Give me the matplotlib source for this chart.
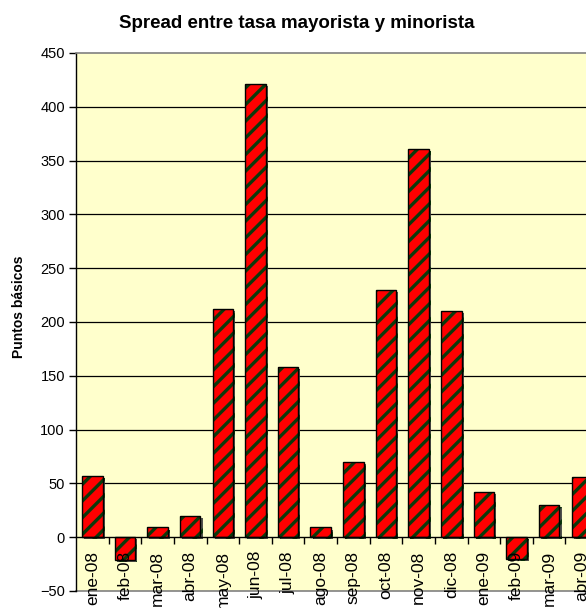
import matplotlib
matplotlib.use("Agg")
import matplotlib.pyplot as plt
import matplotlib.patheffects as pe
import numpy as np

# datos
meses = ["ene-08", "feb-08", "mar-08", "abr-08", "may-08", "jun-08", "jul-08", "ago-08",
         "sep-08", "oct-08", "nov-08", "dic-08", "ene-09", "feb-09", "mar-09", "abr-09"]
spread = [57, -21, 9, 20, 212, 421, 158, 9, 70, 230, 361, 210, 42, -20, 30, 56]
yticks = [-50, 0, 50, 100, 150, 200, 250, 300, 350, 400, 450]

plt.rcParams['font.family'] = ['Liberation Sans', 'DejaVu Sans']
plt.rcParams['hatch.linewidth'] = 2.4

fig = plt.figure(figsize=(5.86, 6.08), dpi=100)
ax = fig.add_axes([0.1297, 0.028, 0.891, 0.885])
ax.set_facecolor('#FFFFCC')

x = np.arange(len(meses))

# líneas de cuadrícula detrás de las barras
for v in yticks[2:-1]:
    ax.axhline(v, color='black', lw=0.9, zorder=0.5)
ax.axhline(-50, color='#808080', lw=1.2, zorder=0.5, clip_on=False)

ax.bar(x, spread, 0.63, color='#FF0000', edgecolor='#0B3A0B', hatch='//', lw=0,
       zorder=1,
       path_effects=[pe.SimplePatchShadow(offset=(1.5, -1.5), shadow_rgbFace='#404040', alpha=0.9),
                     pe.Normal()])
ax.bar(x, spread, 0.63, fill=False, edgecolor='black', lw=1.0, zorder=1.2)

ax.set_xlim(-0.5, len(meses) - 0.5)
ax.set_ylim(-50, 450)
ax.set_yticks(yticks)
ax.tick_params(axis='y', direction='out', length=5, width=1, labelsize=10.5, pad=3)

ax.spines['bottom'].set_position(('data', 0))
ax.spines['bottom'].set_linewidth(1)
ax.spines['left'].set_linewidth(1)
ax.spines['top'].set_color('#808080')
ax.spines['top'].set_linewidth(1.2)
ax.spines['right'].set_visible(False)

ax.set_xticks(x)
ax.set_xticklabels(meses, rotation=90, fontsize=12.5)
ax.set_xticks(x[:-1] + 0.5, minor=True)
ax.tick_params(axis='x', which='major', length=0, pad=10)
ax.tick_params(axis='x', which='minor', direction='out', length=5, width=1)

fig.text(0.032, 0.495, "Puntos básicos", rotation=90, ha='center', va='center',
         fontsize=10, fontweight='bold')
fig.text(0.507, 0.962, "Spread entre tasa mayorista y minorista", ha='center', va='center',
         fontsize=13.5, fontweight='bold')

fig.savefig("out.png", dpi=100)
